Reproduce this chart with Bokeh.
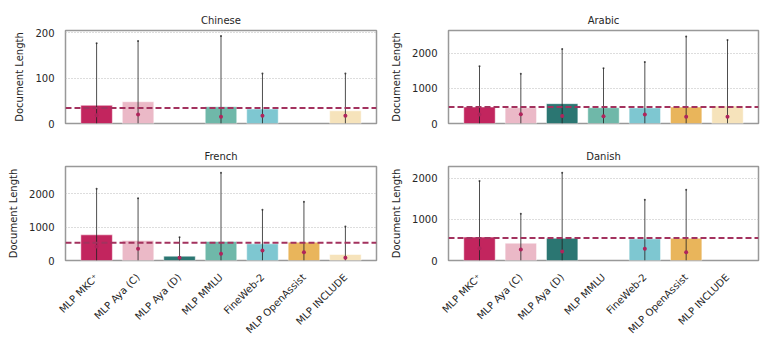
import math
from bokeh.plotting import figure
from bokeh.layouts import gridplot
from bokeh.models import ColumnDataSource, Range1d, FixedTicker, Span
from bokeh.embed import file_html
from bokeh.resources import INLINE

NaN = float("nan")

categories = ["MLP MKC\u207a", "MLP Aya (C)", "MLP Aya (D)", "MLP MMLU",
              "FineWeb-2", "MLP OpenAssist", "MLP INCLUDE"]
colors = ["#C2255E", "#EBB9C7", "#2B7672", "#6FB8A9", "#7EC7D1", "#E9B55B", "#F6E3BB"]

languages = ["Chinese", "Arabic", "French", "Danish"]

chinese_mean = [40, 48, NaN, 37, 32, NaN, 28]
chinese_median = [18, 20, NaN, 15, 17, NaN, 17]
chinese_max = [177, 182, NaN, 193, 110, NaN, 110]
chinese_ref = 34

arabic_mean = [470, 450, 565, 450, 445, 470, 500]
arabic_median = [255, 265, 215, 210, 255, 190, 190]
arabic_max = [1630, 1415, 2120, 1575, 1755, 2480, 2380]
arabic_ref = 470

french_mean = [770, 600, 130, 570, 500, 550, 180]
french_median = [420, 350, 80, 200, 300, 250, 80]
french_max = [2150, 1870, 700, 2630, 1520, 1760, 1020]
french_ref = 530

danish_mean = [567, 420, 540, NaN, 525, 540, NaN]
danish_median = [300, 267, 220, NaN, 283, 200, NaN]
danish_max = [1930, 1135, 2130, NaN, 1475, 1715, NaN]
danish_ref = 543

y_max = [205, 2650, 2820, 2280]
y_ticks = [[0, 100, 200], [0, 1000, 2000], [0, 1000, 2000], [0, 1000, 2000]]

means = [chinese_mean, arabic_mean, french_mean, danish_mean]
medians = [chinese_median, arabic_median, french_median, danish_median]
maxes = [chinese_max, arabic_max, french_max, danish_max]
refs = [chinese_ref, arabic_ref, french_ref, danish_ref]

FONT = "DejaVu Sans"
TXT = "#262626"


def make_panel(i, left, right, top, bottom, frame_w, frame_h, show_x):
    n = len(categories)
    xs = list(range(n))
    src = ColumnDataSource(dict(
        x=xs, top=means[i], med=medians[i], mx=maxes[i],
        low=[0 if not math.isnan(m) else NaN for m in maxes[i]],
        color=colors))
    p = figure(width=left + frame_w + right, height=top + frame_h + bottom,
               x_range=Range1d(-0.75, n - 0.25), y_range=Range1d(0, y_max[i]),
               output_backend="svg", toolbar_location=None, tools="",
               min_border_left=left, min_border_right=right,
               min_border_top=top, min_border_bottom=bottom,
               title=languages[i])
    p.title.align = "center"
    p.title.text_font = FONT
    p.title.text_font_size = "10px"
    p.title.text_font_style = "normal"
    p.title.text_color = TXT
    p.title.standoff = 9

    p.vbar(x="x", top="top", width=0.76, bottom=0, fill_color="color",
           line_color="white", line_width=0.5, source=src)
    p.segment(x0="x", y0="low", x1="x", y1="mx", line_color="#222222",
              line_alpha=0.8, line_width=1, source=src)
    p.scatter(x="x", y="mx", size=2, marker="circle", fill_color="#222222",
              fill_alpha=0.8, line_color=None, source=src)
    p.scatter(x="x", y="med", size=4, marker="circle", fill_color="#B0245C",
              line_color=None, source=src)
    p.add_layout(Span(location=refs[i], dimension="width", line_color="#A3325E",
                      line_width=2, line_dash="6 3"))

    p.outline_line_color = "#999999"
    p.outline_line_width = 1.5
    p.xgrid.grid_line_color = None
    p.ygrid.grid_line_color = "#BBBBBB"
    p.ygrid.grid_line_dash = "1 2"
    p.ygrid.ticker = FixedTicker(ticks=y_ticks[i])

    yax = p.yaxis[0]
    yax.ticker = FixedTicker(ticks=y_ticks[i])
    yax.axis_label = "Document Length"
    yax.axis_label_text_font = FONT
    yax.axis_label_text_font_size = "10px"
    yax.axis_label_text_font_style = "normal"
    yax.axis_label_text_color = TXT
    yax.axis_label_standoff = 7
    yax.major_label_text_font = FONT
    yax.major_label_text_font_size = "10px"
    yax.major_label_text_color = TXT
    yax.major_label_standoff = 11
    yax.major_tick_out = 0
    yax.major_tick_in = 0
    yax.minor_tick_out = 0
    yax.minor_tick_in = 0
    yax.axis_line_color = None
    yax.major_tick_line_color = None
    yax.minor_tick_line_color = None

    xax = p.xaxis[0]
    if show_x:
        xax.ticker = FixedTicker(ticks=xs)
        xax.major_label_overrides = {k: c for k, c in zip(xs, categories)}
        xax.major_label_orientation = math.pi / 4
        xax.major_label_text_font = FONT
        xax.major_label_text_font_size = "10px"
        xax.major_label_text_color = TXT
        xax.major_label_standoff = 15
        xax.major_tick_out = 0
        xax.major_tick_in = 0
        xax.minor_tick_out = 0
        xax.minor_tick_in = 0
        xax.axis_line_color = None
        xax.major_tick_line_color = None
        xax.minor_tick_line_color = None
    else:
        xax.visible = False
    return p


p0 = make_panel(0, 65, 12, 30, 10, 311, 93, False)
p1 = make_panel(1, 60, 4, 30, 10, 310, 93, False)
p2 = make_panel(2, 65, 12, 33, 84, 311, 94, True)
p3 = make_panel(3, 60, 4, 33, 84, 310, 94, True)

grid = gridplot([[p0, p1], [p2, p3]], toolbar_location=None)

open("out.html", "w").write(file_html(grid, INLINE))
